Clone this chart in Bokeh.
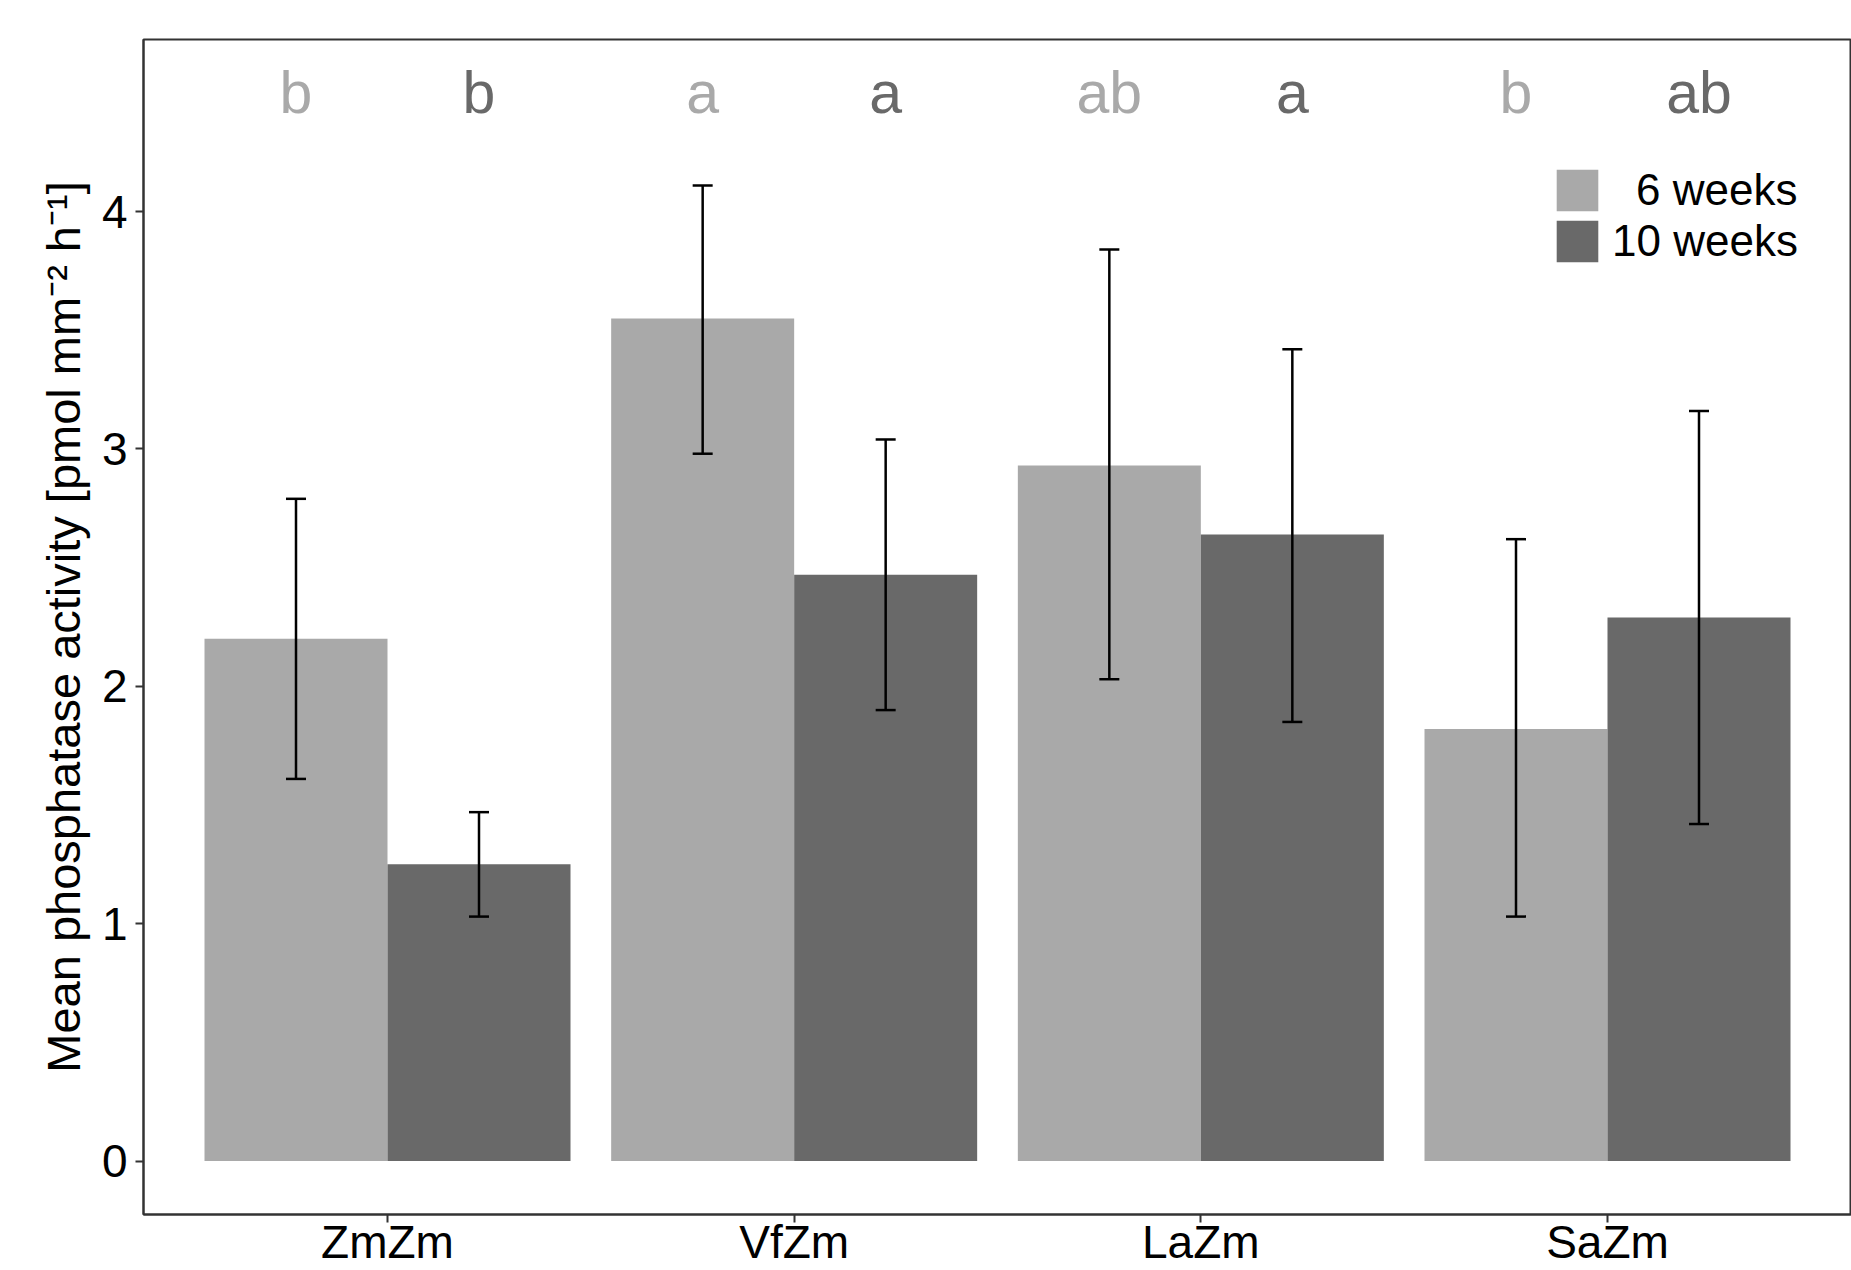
from bokeh.plotting import figure
from bokeh.models import (ColumnDataSource, FactorRange, Range1d, FixedTicker,
                          Whisker, TeeHead, Legend, LegendItem)
from bokeh.transform import dodge
from bokeh.core.properties import value
from bokeh.embed import file_html
from bokeh.resources import INLINE

# ---- data ----
categories = ["ZmZm", "VfZm", "LaZm", "SaZm"]
series_names = ["6 weeks", "10 weeks"]
mean_6w = [2.20, 3.55, 2.93, 1.82]
lower_6w = [1.61, 2.98, 2.03, 1.03]
upper_6w = [2.79, 4.11, 3.84, 2.62]
mean_10w = [1.25, 2.47, 2.64, 2.29]
lower_10w = [1.03, 1.90, 1.85, 1.42]
upper_10w = [1.47, 3.04, 3.42, 3.16]
letters_6w = ["b", "a", "ab", "b"]
letters_10w = ["b", "a", "a", "ab"]
y_ticks = [0, 1, 2, 3, 4]
letter_y = 4.5
y_title = "Mean phosphatase activity [pmol mm\u207b\u00b2 h\u207b\u00b9]"

# ---- style ----
FONT = "Liberation Sans"
C6 = "#A9A9A9"
C10 = "#696969"
DODGE = 0.225
BAR_W = 0.45

src = ColumnDataSource(data=dict(
    cat=categories,
    m6=mean_6w, lo6=lower_6w, up6=upper_6w,
    m10=mean_10w, lo10=lower_10w, up10=upper_10w,
    l6=letters_6w, l10=letters_10w,
))

p = figure(
    x_range=FactorRange(factors=categories, range_padding=0.1,
                        range_padding_units="absolute"),
    y_range=Range1d(-0.225, 4.725),
    width=1851, height=1270,
    output_backend="svg", toolbar_location=None,
    min_border_left=143, min_border_top=39, min_border_right=0,
    min_border_bottom=55,
    background_fill_color="white", border_fill_color="white",
)

x6 = dodge("cat", -DODGE, range=p.x_range)
x10 = dodge("cat", DODGE, range=p.x_range)

r6 = p.vbar(x=x6, top="m6", bottom=0, width=BAR_W, source=src,
            fill_color=C6, line_color=None)
r10 = p.vbar(x=x10, top="m10", bottom=0, width=BAR_W, source=src,
             fill_color=C10, line_color=None)

for base, lo, up in ((x6, "lo6", "up6"), (x10, "lo10", "up10")):
    w = Whisker(source=src, base=base, lower=lo, upper=up, level="overlay",
                line_color="black", line_width=2.5,
                upper_head=TeeHead(size=20, line_color="black", line_width=2.5),
                lower_head=TeeHead(size=20, line_color="black", line_width=2.5))
    p.add_layout(w)

p.text(x=x6, y=letter_y, text="l6", source=src, text_font=value(FONT),
       text_font_size="59px", text_align="center", text_baseline="middle",
       text_color=C6)
p.text(x=x10, y=letter_y, text="l10", source=src, text_font=value(FONT),
       text_font_size="59px", text_align="center", text_baseline="middle",
       text_color=C10)

# legends (one per item so labels line up on the right)
def make_legend(label, rend, loc, standoff):
    return Legend(items=[LegendItem(label=label, renderers=[rend])],
                  location=loc, padding=0, margin=0, spacing=0,
                  border_line_color=None, background_fill_alpha=0,
                  glyph_width=52, glyph_height=52,
                  label_standoff=standoff,
                  label_text_font=FONT, label_text_font_size="44px",
                  label_text_color="black")

p.add_layout(make_legend(series_names[0], r6, (1408, 998), 33))
p.add_layout(make_legend(series_names[1], r10, (1408, 947), 9))

# axes
p.xgrid.visible = False
p.ygrid.visible = False
p.outline_line_color = "#333333"
p.outline_line_width = 2

for ax in (p.xaxis[0], p.yaxis[0]):
    ax.axis_line_color = "#333333"
    ax.axis_line_width = 2
    ax.major_tick_line_color = "#333333"
    ax.major_tick_line_width = 2
    ax.major_tick_out = 8
    ax.major_tick_in = 0
    ax.minor_tick_line_color = None
    ax.major_label_text_font = FONT
    ax.major_label_text_font_size = "46px"
    ax.major_label_text_color = "black"

p.xaxis.major_label_standoff = -7
p.yaxis.ticker = FixedTicker(ticks=y_ticks)
p.yaxis.major_label_standoff = 8
p.yaxis.axis_label = y_title
p.yaxis.axis_label_text_font = FONT
p.yaxis.axis_label_text_font_size = "47px"
p.yaxis.axis_label_text_font_style = "normal"
p.yaxis.axis_label_text_color = "black"
p.yaxis.axis_label_standoff = 9

open("out.html", "w").write(file_html(p, INLINE))
